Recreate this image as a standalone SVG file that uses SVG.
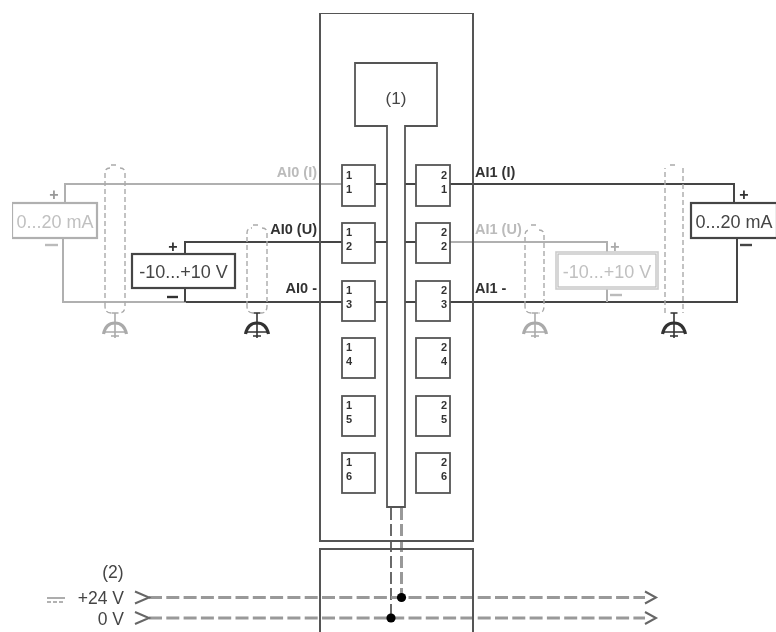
<svg xmlns="http://www.w3.org/2000/svg" width="776" height="632" viewBox="0 0 776 632">
<style>
text{font-family:"Liberation Sans",Arial,sans-serif;fill:#444}
.w{fill:#fff;stroke:#555;stroke-width:1.8}
.d{fill:none;stroke:#444;stroke-width:2}
.g{fill:none;stroke:#b0b0b0;stroke-width:2}
.sh{fill:none;stroke:#aaa;stroke-width:1.4;stroke-dasharray:5 3}
.t{font-size:11px;font-weight:bold;fill:#333;text-anchor:middle}
.lab{font-size:14.500px;font-weight:bold;fill:#333}
.lg{font-size:14.500px;font-weight:bold;fill:#bbb}
.end{text-anchor:end}
.sym{font-size:16px;font-weight:bold;text-anchor:middle}
.big{font-size:18px;text-anchor:middle}
.pw{font-size:17.500px}
.bus{fill:none;stroke:#999;stroke-width:3;stroke-dasharray:13 4.300}
.ch{fill:none;stroke:#666;stroke-width:2}
</style>
<defs>
<filter id="soft" x="0" y="0" width="100%" height="100%"><feGaussianBlur stdDeviation="0.7"/></filter>
<g id="gnd" fill="none" stroke="currentColor">
<path d="M-3.500 -16H3.500M0 -16V9M-10 3H10M-4 7H4" stroke-width="1.600"/>
<path d="M-11.500 5C-10 -2 -6 -6 0 -6C6 -6 10 -2 11.500 5" stroke-width="3.200"/>
</g>
</defs>
<g filter="url(#soft)">
<g id="connectors">
<path class="g" d="M342 184H65V203M63 238V302H186"/>
<path class="d" d="M342 242H185V254M185 288V302M186 302H342"/>
<path class="d" d="M450 184H734V203M737 238V302H450"/>
<path class="g" d="M450 242H607V254M607 288V302"/>
<path class="d" d="M375 184H387M375 242H387M375 302H387M405 184H416M405 242H416M405 302H416"/>
<path d="M391 508V618" fill="none" stroke="#444" stroke-width="1.600" stroke-dasharray="12 4"/>
<path d="M401.500 508V598" fill="none" stroke="#999" stroke-width="3" stroke-dasharray="12 4"/>
<path class="bus" d="M149 597.500H645M149 618H645"/>
<path class="ch" d="M135 591.500L149 597.500L135 603.500M135 612L149 618L135 624M645 591.500L656 597.500L645 603.500M645 612L656 618L645 624"/>
<circle cx="401.500" cy="597.500" r="4.600" fill="#000"/>
<circle cx="391" cy="618" r="4.600" fill="#000"/>
</g>
<g id="module">
<rect x="320" y="13" width="153" height="528" fill="none" stroke="#555" stroke-width="2"/>
<path d="M320 632V549H473V632" fill="none" stroke="#555" stroke-width="2"/>
</g>
<g id="cpu">
<path class="w" d="M355 63H437V126H405V507H387V126H355Z"/>
<text x="396" y="104" font-size="17" text-anchor="middle">(1)</text>
</g>
<g id="t11"><rect x="342" y="165" width="33" height="41" class="w"/><text class="t" x="349" y="179">1</text><text class="t" x="349" y="193">1</text></g>
<g id="t12"><rect x="342" y="223" width="33" height="40" class="w"/><text class="t" x="349" y="236">1</text><text class="t" x="349" y="250">2</text></g>
<g id="t13"><rect x="342" y="281" width="33" height="40" class="w"/><text class="t" x="349" y="294">1</text><text class="t" x="349" y="308">3</text></g>
<g id="t14"><rect x="342" y="338" width="33" height="40" class="w"/><text class="t" x="349" y="351">1</text><text class="t" x="349" y="365">4</text></g>
<g id="t15"><rect x="342" y="396" width="33" height="40" class="w"/><text class="t" x="349" y="409">1</text><text class="t" x="349" y="423">5</text></g>
<g id="t16"><rect x="342" y="453" width="33" height="40" class="w"/><text class="t" x="349" y="466">1</text><text class="t" x="349" y="480">6</text></g>
<g id="t21"><rect x="416" y="165" width="34" height="41" class="w"/><text class="t" x="444" y="179">2</text><text class="t" x="444" y="193">1</text></g>
<g id="t22"><rect x="416" y="223" width="34" height="40" class="w"/><text class="t" x="444" y="236">2</text><text class="t" x="444" y="250">2</text></g>
<g id="t23"><rect x="416" y="281" width="34" height="40" class="w"/><text class="t" x="444" y="294">2</text><text class="t" x="444" y="308">3</text></g>
<g id="t24"><rect x="416" y="338" width="34" height="40" class="w"/><text class="t" x="444" y="351">2</text><text class="t" x="444" y="365">4</text></g>
<g id="t25"><rect x="416" y="396" width="34" height="40" class="w"/><text class="t" x="444" y="409">2</text><text class="t" x="444" y="423">5</text></g>
<g id="t26"><rect x="416" y="453" width="34" height="40" class="w"/><text class="t" x="444" y="466">2</text><text class="t" x="444" y="480">6</text></g>
<g id="src-i0">
<rect x="12" y="203" width="85" height="35" fill="#fff" stroke="#b0b0b0" stroke-width="2.200"/>
<text class="big" x="55" y="228" style="fill:#c0c0c0">0...20 mA</text>
<text class="sym" x="54" y="200" style="fill:#999">+</text>
<path d="M45 245H58" stroke="#bbb" stroke-width="2.400"/>
</g>
<g id="src-u0">
<rect x="132" y="254" width="103" height="34" fill="#fff" stroke="#444" stroke-width="2.200"/>
<text class="big" x="183.500" y="278">-10...+10 V</text>
<text class="sym" x="173" y="252" style="fill:#333">+</text>
<path d="M167 297H178" stroke="#333" stroke-width="2.400"/>
</g>
<g id="src-i1">
<rect x="691" y="203" width="86" height="35" fill="#fff" stroke="#444" stroke-width="2.200"/>
<text class="big" x="734" y="228">0...20 mA</text>
<text class="sym" x="744" y="200" style="fill:#333">+</text>
<path d="M740 245H752" stroke="#444" stroke-width="2.400"/>
</g>
<g id="src-u1">
<rect x="556" y="252" width="102" height="37" fill="#fff" stroke="#ccc" stroke-width="1.600"/>
<rect x="558" y="254" width="98" height="33" fill="#fff" stroke="#bbb" stroke-width="1.200"/>
<text class="big" x="607" y="278" style="fill:#c0c0c0">-10...+10 V</text>
<text class="sym" x="615" y="252" style="fill:#aaa">+</text>
<path d="M610 295H622" stroke="#bbb" stroke-width="2.400"/>
</g>
<g id="labels">
<text class="lg end" x="317" y="177">AI0 (I)</text>
<text class="lab end" x="317" y="234">AI0 (U)</text>
<text class="lab end" x="317" y="293">AI0 -</text>
<text class="lab" x="475" y="177">AI1 (I)</text>
<text class="lg" x="475" y="234">AI1 (U)</text>
<text class="lab" x="475" y="293">AI1 -</text>
</g>
<g id="shield1">
<path class="sh" d="M105 306V173Q105 168 110 168M120 168Q125 168 125 173V306Q125 313 119 313M111 313Q105 313 105 306M111 165H119"/>
<use href="#gnd" x="115" y="329" style="color:#aaa"/>
</g>
<g id="shield2">
<path class="sh" d="M247 306V233Q247 228 252 228M262 228Q267 228 267 233V306Q267 313 261 313M253 313Q247 313 247 306M253 225H261"/>
<use href="#gnd" x="257" y="329" style="color:#333"/>
</g>
<g id="shield3">
<path class="sh" d="M525 306V235Q525 230 530 230M539 230Q544 230 544 235V306Q544 313 539 313M531 313Q525 313 525 306M531 225H539"/>
<use href="#gnd" x="535" y="329" style="color:#aaa"/>
</g>
<g id="shield4">
<path class="sh" d="M665 313V168M683 168V313M670 165H678"/>
<use href="#gnd" x="674" y="329" style="color:#333"/>
</g>
<g id="power">
<text class="pw" x="113" y="578" text-anchor="middle">(2)</text>
<text class="pw" x="124" y="604" text-anchor="end">+24 V</text>
<text class="pw" x="124" y="625" text-anchor="end">0 V</text>
<path d="M47 598H65" stroke="#999" stroke-width="1.600"/>
<path d="M47 602H65" stroke="#999" stroke-width="1.400" stroke-dasharray="4 2"/>
</g>
</g>
</svg>
